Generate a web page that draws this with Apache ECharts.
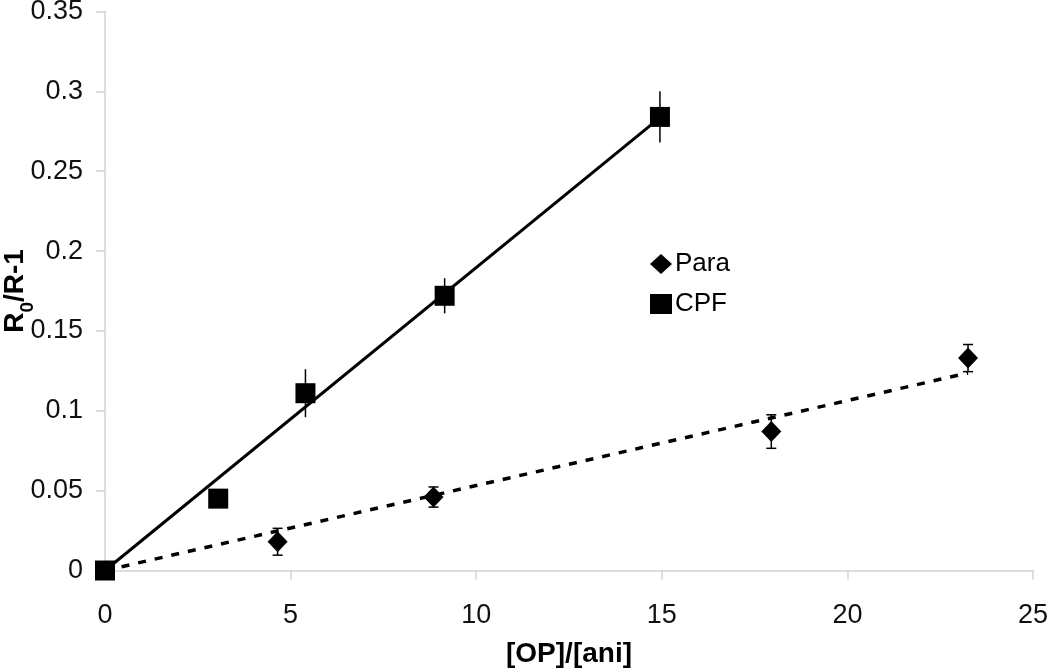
<!DOCTYPE html>
<html>
<head>
<meta charset="utf-8">
<script src="https://cdn.jsdelivr.net/npm/echarts@6/dist/echarts.min.js"></script>
<style>html,body{margin:0;padding:0;background:#fff}#c{width:1050px;height:670px}</style>
</head>
<body>
<div id="c"></div>
<script>
// Data
var paraX = [4.65, 8.85, 17.95, 23.25];
var paraY = [0.018, 0.046, 0.087, 0.133];
var paraErr = [0.0084, 0.0063, 0.0105, 0.0085];
var cpfX = [0, 3.05, 5.4, 9.15, 14.95];
var cpfY = [0, 0.045, 0.111, 0.172, 0.284];
var cpfErr = [0, 0, 0.015, 0.011, 0.016];
var paraTrendX = [0, 23.25];
var paraTrendY = [0, 0.1237];
var cpfTrendX = [0, 14.95];
var cpfTrendY = [0, 0.2835];
var xTicks = [0, 5, 10, 15, 20, 25];
var yTicks = [0, 0.05, 0.1, 0.15, 0.2, 0.25, 0.3, 0.35];

function zip(a, b) { return a.map(function (v, i) { return [v, b[i]]; }); }
function errData(x, y, e) { return x.map(function (v, i) { return [v, y[i] - e[i], y[i] + e[i]]; }); }

function errRender(capW) {
  return function (params, api) {
    var x = api.value(0);
    var lo = api.coord([x, api.value(1)]);
    var hi = api.coord([x, api.value(2)]);
    var style = { stroke: '#000', lineWidth: 1.5 };
    var children = [{ type: 'line', shape: { x1: lo[0], y1: lo[1], x2: hi[0], y2: hi[1] }, style: style }];
    if (capW > 0) {
      children.push({ type: 'line', shape: { x1: lo[0] - capW / 2, y1: lo[1], x2: lo[0] + capW / 2, y2: lo[1] }, style: style });
      children.push({ type: 'line', shape: { x1: hi[0] - capW / 2, y1: hi[1], x2: hi[0] + capW / 2, y2: hi[1] }, style: style });
    }
    return { type: 'group', children: children };
  };
}

var font = '"Liberation Sans", Arial, sans-serif';
var chart = echarts.init(document.getElementById('c'), null, { renderer: 'canvas' });
chart.setOption({
  animation: false,
  backgroundColor: '#fff',
  grid: { left: 105, right: 17, top: 11.5, bottom: 99.5, containLabel: false, outerBoundsMode: 'none' },
  legend: {
    orient: 'vertical', left: 645, top: 246, itemWidth: 22, itemHeight: 20, itemGap: 14,
    textStyle: { fontFamily: font, fontSize: 26, color: '#000', padding: [0, 0, 0, -2] },
    data: [{ name: 'Para', icon: 'diamond' }, { name: 'CPF', icon: 'rect' }]
  },
  xAxis: {
    type: 'value', min: 0, max: 25, interval: 5,
    name: '[OP]/[ani]', nameLocation: 'middle', nameGap: 70, nameMoveOverlap: false,
    nameTextStyle: { fontFamily: font, fontSize: 28, fontWeight: 'bold', color: '#000' },
    axisLine: { show: true, lineStyle: { color: '#d4d4d4', width: 1.5 } },
    axisTick: { show: true, inside: false, length: 9, lineStyle: { color: '#d4d4d4', width: 1.5 } },
    axisLabel: { fontFamily: font, fontSize: 27, color: '#111', margin: 32, formatter: function (v) { return xTicks.indexOf(v) >= 0 ? String(v) : ''; } },
    splitLine: { show: false }
  },
  yAxis: {
    type: 'value', min: 0, max: 0.35, interval: 0.05,
    name: '{a|R}{s|0}{a|/R-1}', nameLocation: 'middle', nameGap: 76, nameMoveOverlap: false,
    nameTextStyle: {
      fontFamily: font, fontWeight: 'bold', color: '#000', fontSize: 28,
      rich: {
        a: { fontFamily: font, fontWeight: 'bold', fontSize: 28, color: '#000', verticalAlign: 'bottom', lineHeight: 30 },
        s: { fontFamily: font, fontWeight: 'bold', fontSize: 19, color: '#000', verticalAlign: 'bottom', lineHeight: 22, padding: [0, 0, -8, 0] }
      }
    },
    axisLine: { show: true, lineStyle: { color: '#d4d4d4', width: 1.5 } },
    axisTick: { show: true, inside: false, length: 9, lineStyle: { color: '#d4d4d4', width: 1.5 } },
    axisLabel: { fontFamily: font, fontSize: 27, color: '#111', margin: 22, formatter: function (v) {
      var r = Math.round(v * 100) / 100; return String(r); } },
    splitLine: { show: false }
  },
  series: [
    {
      name: 'CPF trend', type: 'line', data: zip(cpfTrendX, cpfTrendY), showSymbol: false, symbol: 'none',
      lineStyle: { color: '#000', width: 3 }, z: 2, silent: true
    },
    {
      name: 'Para trend', type: 'line', data: zip(paraTrendX, paraTrendY), showSymbol: false, symbol: 'none',
      lineStyle: { color: '#000', width: 3.5, type: [8, 9] }, z: 2, silent: true
    },
    {
      name: 'Para err', type: 'custom', renderItem: errRender(10), data: errData(paraX, paraY, paraErr),
      encode: { x: 0, y: [1, 2] }, z: 3, silent: true
    },
    {
      name: 'CPF err', type: 'custom', renderItem: errRender(0), data: errData(cpfX, cpfY, cpfErr),
      encode: { x: 0, y: [1, 2] }, z: 3, silent: true
    },
    {
      name: 'Para', type: 'scatter', data: zip(paraX, paraY), symbol: 'diamond', symbolSize: [20, 21],
      itemStyle: { color: '#000', opacity: 1 }, z: 5
    },
    {
      name: 'CPF', type: 'scatter', data: zip(cpfX, cpfY), symbol: 'rect', symbolSize: 20,
      itemStyle: { color: '#000', opacity: 1 }, z: 5
    }
  ]
});
</script>
</body>
</html>
